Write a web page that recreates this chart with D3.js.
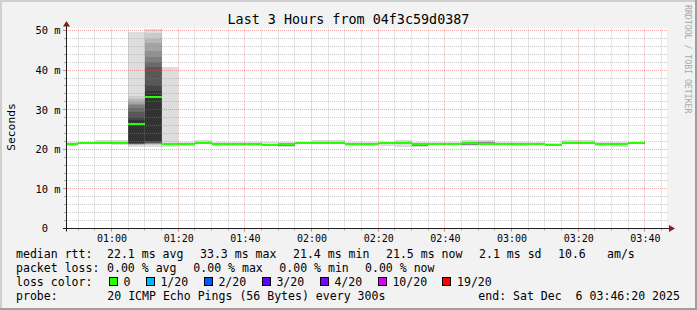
<!DOCTYPE html>
<html><head><meta charset="utf-8">
<script src="https://cdn.jsdelivr.net/npm/d3@7"></script>
<style>
body{margin:0;background:#f2f2f2}
svg{display:block}
text{font-family:"DejaVu Sans Mono",monospace;white-space:pre}
</style>
</head><body>
<svg id="c" width="697" height="310"></svg>
<script>
// ---------------- data ----------------
const title = "Last 3 Hours from 04f3c59d0387";
const yLabel = "Seconds";
const watermark = "RRDTOOL / TOBI OETIKER";
const day = "2025-12-06";
const rangeStart = "00:46:20";
const rangeEnd = "03:46:20";
const stepEnds = ["00:50","00:55","01:00","01:05","01:10","01:15","01:20","01:25","01:30","01:35",
  "01:40","01:45","01:50","01:55","02:00","02:05","02:10","02:15","02:20","02:25",
  "02:30","02:35","02:40","02:45","02:50","02:55","03:00","03:05","03:10","03:15",
  "03:20","03:25","03:30","03:35","03:40"];
const median = [21.45,21.7,21.7,21.7,26.3,33.3,21.4,21.4,21.6,21.45,
  21.4,21.4,21.1,21.35,21.7,21.7,21.6,21.4,21.4,21.55,
  21.7,21.4,21.4,21.4,21.55,21.4,21.45,21.4,21.45,21.2,
  21.65,21.65,21.45,21.45,21.65];
const smoke = [
  [20.85,21.15,21.4,21.5,21.6,21.8],
  [21.35,21.55,21.65,21.75,21.85,21.95],
  [21.35,21.55,21.65,21.75,21.9,22.35],
  [21.05,21.45,21.65,21.75,21.95,22.35],
  [20.7,21.1,21.2,21.3,21.3,21.4,21.4,21.4,21.5,21.5,27.3,28.1,29.5,30.4,31.1,31.5,32.0,32.7,33.4,49.6],
  [20.5,21.2,21.3,21.4,21.4,21.5,21.5,21.6,21.8,22.2,34.8,36.3,40.7,42.0,43.3,44.7,46.9,47.9,49.4,50.4],
  [20.7,21.1,21.35,21.45,21.6,40.8],
  [20.75,21.05,21.35,21.45,21.65,21.85],
  [21.25,21.45,21.55,21.65,21.85,22.45],
  [20.75,21.05,21.4,21.5,21.65,21.85],
  [20.95,21.15,21.35,21.45,21.65,21.85],
  [20.95,21.15,21.35,21.45,21.65,21.85],
  [20.85,20.95,21.05,21.15,21.45,21.75],
  [20.55,20.95,21.3,21.4,21.55,21.75],
  [21.35,21.55,21.65,21.75,21.85,21.95],
  [21.35,21.55,21.65,21.75,21.95,22.35],
  [21.25,21.45,21.55,21.65,21.85,22.35],
  [20.95,21.15,21.35,21.45,21.65,21.75],
  [20.75,21.05,21.35,21.45,21.55,21.75],
  [20.75,21.25,21.5,21.6,21.75,21.95],
  [20.65,21.25,21.65,21.75,21.95,22.35],
  [20.65,20.95,21.35,21.45,21.65,21.75],
  [21.05,21.15,21.35,21.45,21.65,21.75],
  [21.05,21.15,21.35,21.45,21.65,21.75],
  [20.85,21.05,21.5,21.6,21.85,22.35],
  [21.05,21.25,21.35,21.45,21.75,22.35],
  [21.15,21.25,21.4,21.5,21.65,21.75],
  [20.85,21.05,21.35,21.45,21.55,21.75],
  [21.05,21.25,21.4,21.5,21.65,21.75],
  [20.75,20.85,21.15,21.25,21.45,21.55],
  [21.35,21.55,21.6,21.7,21.85,22.35],
  [21.35,21.55,21.6,21.7,21.85,22.35],
  [20.85,21.05,21.4,21.5,21.65,21.75],
  [20.65,21.15,21.4,21.5,21.65,21.75],
  [21.35,21.45,21.6,21.7,21.85,21.95]
];
const yTicks = [0,10,20,30,40,50];
const yMinor = [2,4,6,8,12,14,16,18,22,24,26,28,32,34,36,38,42,44,46,48];
const xTickLabels = ["01:00","01:20","01:40","02:00","02:20","02:40","03:00","03:20","03:40"];
const xMinorLabels = ["00:50","00:55","01:05","01:10","01:15","01:25","01:30","01:35","01:45","01:50","01:55",
  "02:05","02:10","02:15","02:25","02:30","02:35","02:45","02:50","02:55","03:05","03:10","03:15",
  "03:25","03:30","03:35","03:45"];
const rttLabel = "median rtt:";
const rttItems = ["22.1 ms avg","33.3 ms max","21.4 ms min","21.5 ms now","2.1 ms sd","10.6","am/s"];
const lossLabel = "packet loss:";
const lossItems = ["0.00 % avg","0.00 % max","0.00 % min","0.00 % now"];
const colorLabel = "loss color:";
const lossNames = ["0","1/20","2/20","3/20","4/20","10/20","19/20"];
const lossColors = ["#26ff00","#00b8ff","#0059ff","#5e00ff","#7e00ff","#dd00ff","#ff0000"];
const probeLabel = "probe:";
const probeText = "20 ICMP Echo Pings (56 Bytes) every 300s";
const endText = "end: Sat Dec  6 03:46:20 2025";

// ---------------- layout ----------------
const X0 = 66, X1 = 666, YT = 28.5, YB = 228.5;
const parse = d3.timeParse("%Y-%m-%d %H:%M:%S");
const T = s => parse(day + " " + (s.length === 5 ? s + ":00" : s));
const x = d3.scaleTime().domain([T(rangeStart), T(rangeEnd)]).range([X0, X1]);
const y = d3.scaleLinear().domain([0, 50.5]).range([YB, YT]);
const svg = d3.select("#c");

svg.append("rect").attr("width",697).attr("height",310).attr("fill","#f2f2f2");
svg.append("path").attr("d","M0,1H697M1,0V310").attr("stroke","#cfcfcf").attr("stroke-width",2);
svg.append("path").attr("d","M0,309H697M696,0V310").attr("stroke","#9e9e9e").attr("stroke-width",2);

svg.append("rect").attr("x",X0).attr("y",28).attr("width",X1-X0+1).attr("height",201).attr("fill","#fff");
svg.append("clipPath").attr("id","cv").append("rect").attr("x",X0).attr("y",28).attr("width",X1-X0+1).attr("height",201);

const plot = svg.append("g").attr("clip-path","url(#cv)").attr("shape-rendering","crispEdges");
const step = 5*60*1000;
stepEnds.forEach((s,i)=>{
  const t1 = T(s), t0 = new Date(+t1 - step);
  const xl = Math.round(x(t0)), xr = Math.round(x(t1));
  const p = smoke[i], n = p.length, half = Math.floor(n/2);
  for (let k=0;k<half;k++){
    const g = half>1 ? Math.round(221 - 171*k/(half-1)) : 50;
    const yt = Math.round(y(p[n-1-k])), yb = Math.round(y(p[k]));
    plot.append("rect").attr("x",xl).attr("width",xr-xl)
      .attr("y",yt).attr("height",Math.max(0,yb-yt))
      .attr("fill",d3.rgb(g,g,g));
  }
});
stepEnds.forEach((s,i)=>{
  const t1 = T(s), t0 = new Date(+t1 - step);
  const xl = Math.round(x(t0)), xr = Math.round(x(t1));
  plot.append("rect").attr("x",xl).attr("width",xr-xl)
    .attr("y",Math.round(y(median[i])-1)).attr("height",2).attr("fill",lossColors[0]);
});

// grid on top
const grid = svg.append("g");
const minorC = "rgba(143,143,143,0.45)", majorC = "rgba(222,79,79,0.5)";
const gy = v => Math.floor(y(v)) + 0.5;
const gx = d => Math.floor(x(d)) + 0.5;
yMinor.forEach(v=>{
  grid.append("line").attr("x1",X0).attr("x2",X1+1).attr("y1",gy(v)).attr("y2",gy(v))
    .attr("stroke",minorC).attr("stroke-dasharray","1,1");
  grid.append("line").attr("x1",X0-2).attr("x2",X0).attr("y1",gy(v)).attr("y2",gy(v)).attr("stroke","rgba(143,143,143,0.75)");
});
xMinorLabels.map(T).forEach(d=>{
  grid.append("line").attr("x1",gx(d)).attr("x2",gx(d)).attr("y1",YT).attr("y2",YB)
    .attr("stroke",minorC).attr("stroke-dasharray","1,1");
  grid.append("line").attr("x1",gx(d)).attr("x2",gx(d)).attr("y1",YB).attr("y2",YB+2).attr("stroke","rgba(143,143,143,0.75)");
});
yTicks.filter(v=>v>0).forEach(v=>{
  grid.append("line").attr("x1",X0).attr("x2",X1+1).attr("y1",gy(v)).attr("y2",gy(v))
    .attr("stroke",majorC).attr("stroke-dasharray","1,1");
  grid.append("line").attr("x1",X0-3).attr("x2",X0).attr("y1",gy(v)).attr("y2",gy(v)).attr("stroke","rgba(222,79,79,0.7)");
});
xTickLabels.map(T).forEach(d=>{
  grid.append("line").attr("x1",gx(d)).attr("x2",gx(d)).attr("y1",YT).attr("y2",YB)
    .attr("stroke",majorC).attr("stroke-dasharray","1,1");
  grid.append("line").attr("x1",gx(d)).attr("x2",gx(d)).attr("y1",YB).attr("y2",YB+3).attr("stroke","rgba(222,79,79,0.7)");
});

// axes lines + arrows
svg.append("line").attr("x1",X0-3).attr("x2",670).attr("y1",YB).attr("y2",YB).attr("stroke","#1f1f1f");
svg.append("line").attr("x1",X0+0.5).attr("x2",X0+0.5).attr("y1",YB+3).attr("y2",25).attr("stroke","#1f1f1f");
svg.append("path").attr("d",`M${X0+0.5},21 L${X0-3},26.5 L${X0+4},26.5Z`).attr("fill","#801f1f");
svg.append("path").attr("d",`M675,${YB} L669,${YB-3.5} L669,${YB+3.5}Z`).attr("fill","#801f1f");

// axis labels via d3 axes
const yAx = svg.append("g").attr("transform",`translate(${X0+0.5},0)`)
  .call(d3.axisLeft(y).tickValues(yTicks).tickSize(0).tickPadding(6)
    .tickFormat(v => v===0 ? "0\u00a0\u00a0" : v + " m"));
yAx.select(".domain").remove();
yAx.selectAll("text").attr("font-family","DejaVu Sans Mono").attr("font-size","10.4px").attr("fill","#000");

const xAx = svg.append("g").attr("transform",`translate(0,${YB})`)
  .call(d3.axisBottom(x).tickValues(xTickLabels.map(T)).tickSize(0).tickPadding(6)
    .tickFormat(d3.timeFormat("%H:%M")));
xAx.select(".domain").remove();
xAx.selectAll("text").attr("font-family","DejaVu Sans Mono").attr("font-size","10px").attr("fill","#000");

// title and labels
svg.append("text").attr("x",348.5).attr("y",24).attr("text-anchor","middle")
  .attr("font-size","13.4px").text(title);
svg.append("text").attr("transform","translate(15,127) rotate(-90)").attr("text-anchor","middle")
  .attr("font-size","11.3px").text(yLabel);
svg.append("text").attr("transform","translate(685,5) rotate(90)").attr("text-anchor","start")
  .attr("font-size","8.2px").attr("fill","#a8a8a8").text(watermark);

// legend
const lg = svg.append("g").attr("font-size","11.55px");
const L = (t,xx,yy)=>lg.append("text").attr("x",xx).attr("y",yy).text(t);
L(rttLabel,16,258);
[107,200,293,386,479,558,607].forEach((xx,i)=>L(rttItems[i],xx,258));
L(lossLabel,16,272);
[107,193.3,279.3,365].forEach((xx,i)=>L(lossItems[i],xx,272));
L(colorLabel,16,286);
[108.7,145.7,203.7,261.7,319.7,377.7,442.3].forEach((bx,i)=>{
  lg.append("rect").attr("x",Math.round(bx)+0.5).attr("y",277.5).attr("width",8).attr("height",8)
    .attr("fill",lossColors[i]).attr("stroke","#000");
  L(lossNames[i],bx+14.7,286);
});
L(probeLabel,16,300);
L(probeText,107.3,300);
L(endText,478.3,300);
</script>
</body></html>
